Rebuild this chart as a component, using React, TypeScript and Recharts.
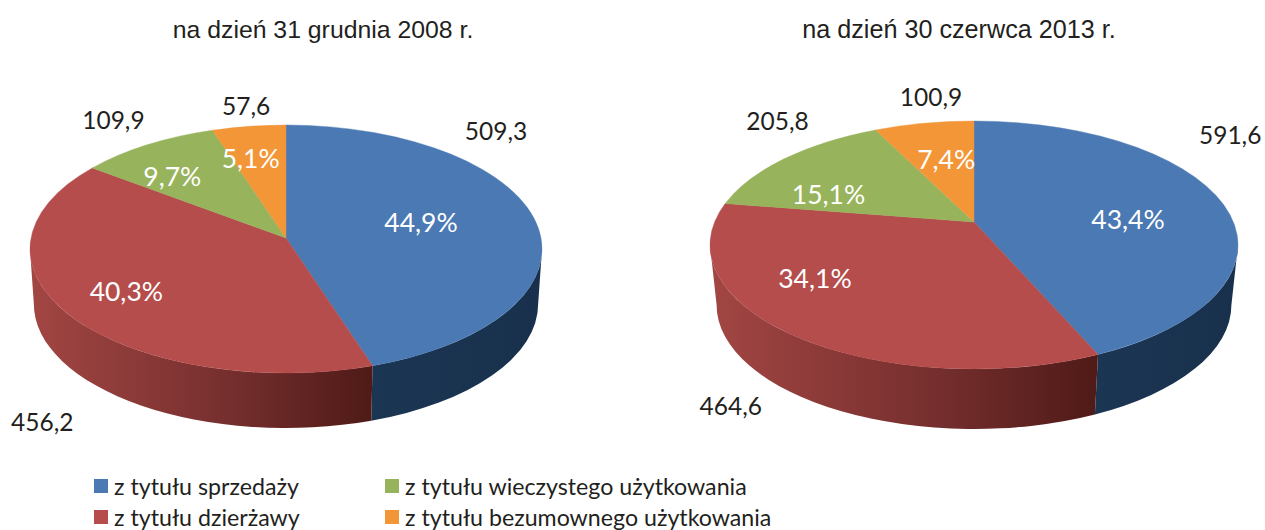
import React from 'react';
import { PieChart, Pie, Legend } from 'recharts';

const CATEGORIES = ['z tytułu sprzedaży', 'z tytułu dzierżawy', 'z tytułu wieczystego użytkowania', 'z tytułu bezumownego użytkowania'];
const COLORS = ['#4B79B3', '#B44D4B', '#97B35B', '#F39637'];
const VALUES_2008 = [509.3, 456.2, 109.9, 57.6];
const VALUES_2013 = [591.6, 464.6, 205.8, 100.9];
const VALUE_TEXT_2008 = ['509,3', '456,2', '109,9', '57,6'];
const VALUE_TEXT_2013 = ['591,6', '464,6', '205,8', '100,9'];
const SHARE_TEXT_2008 = ['44,9%', '40,3%', '9,7%', '5,1%'];
const SHARE_TEXT_2013 = ['43,4%', '34,1%', '15,1%', '7,4%'];
const TITLE_2008 = 'na dzień 31 grudnia 2008 r.';
const TITLE_2013 = 'na dzień 30 czerwca 2013 r.';

type Geo = {
  id: string; cx: number; cy: number; rx: number; ry: number; ey: number; depth: number; k: number;
  inner: number[][]; outer: number[][]; shares: string[]; texts: string[];
};

const GEO_2008: Geo = {
  id: 'a', cx: 286, cy: 238, rx: 256, ry: 124, ey: 249, depth: 55, k: 0.985,
  inner: [[-47, -2], [-10, 1], [-6, 10], [-6, 8]],
  outer: [[-68, -86], [-15, 104], [-8, -8], [5, 2]],
  shares: SHARE_TEXT_2008, texts: VALUE_TEXT_2008,
};
const GEO_2013: Geo = {
  id: 'b', cx: 974, cy: 222, rx: 264, ry: 124, ey: 245, depth: 60, k: 0.975,
  inner: [[-32, 15], [-43, -15], [8, 25], [16, 24]],
  outer: [[-28, -59], [-66, 75], [38, -21], [24, 7]],
  shares: SHARE_TEXT_2013, texts: VALUE_TEXT_2013,
};

const rad = (d: number) => (d * Math.PI) / 180;

// recharts angle (counter-clockwise from east) -> ellipse parameter, clockwise from top,
// following the ray from the off-centre apex so the perspective of the disc is kept.
function ellipseParam(g: Geo, angle: number) {
  const t = rad(90 - angle);
  const dx = g.rx * Math.sin(t);
  const dy = -g.ry * Math.cos(t);
  const off = (g.cy - g.ey) / g.ry;
  const a = (dx / g.rx) ** 2 + (dy / g.ry) ** 2;
  const b = (2 * dy * off) / g.ry;
  const c = off * off - 1;
  const s = (-b + Math.sqrt(b * b - 4 * a * c)) / (2 * a);
  const x = (dx * s) / g.rx;
  const y = (g.cy + dy * s - g.ey) / g.ry;
  let phi = (Math.atan2(x, -y) * 180) / Math.PI;
  if (phi < -0.001) phi += 360;
  return phi;
}
const topPt = (g: Geo, phi: number) => [g.cx + g.rx * Math.sin(rad(phi)), g.ey - g.ry * Math.cos(rad(phi))];
const lowPt = (g: Geo, phi: number) => [g.cx + g.k * g.rx * Math.sin(rad(phi)), g.ey + g.depth - g.ry * Math.cos(rad(phi))];
const f = (n: number) => n.toFixed(2);

function makeSlice(g: Geo) {
  return function Slice(props: any) {
    const { startAngle, endAngle, fill, index } = props;
    const p1 = ellipseParam(g, startAngle);
    let p2 = ellipseParam(g, endAngle);
    if (p2 <= p1) p2 += 360;
    const A = topPt(g, p1);
    const B = topPt(g, p2);
    const large = p2 - p1 > 180 ? 1 : 0;
    const face = `M${g.cx},${g.cy} L${f(A[0])},${f(A[1])} A${g.rx},${g.ry} 0 ${large} 1 ${f(B[0])},${f(B[1])} Z`;
    const w1 = Math.max(p1, 90);
    const w2 = Math.min(p2, 270);
    let wall: React.ReactNode = null;
    if (w2 > w1) {
      const a = topPt(g, w1), b = topPt(g, w2), c = lowPt(g, w2), d = lowPt(g, w1);
      const path = `M${f(a[0])},${f(a[1])} A${g.rx},${g.ry} 0 0 1 ${f(b[0])},${f(b[1])} L${f(c[0])},${f(c[1])} A${f(g.k * g.rx)},${g.ry} 0 0 0 ${f(d[0])},${f(d[1])} Z`;
      const gid = `wall-${g.id}-${index}`;
      const stops = index === 0
        ? [['0%', '#1B3653'], ['100%', '#18304C']]
        : [['0%', '#A24643'], ['55%', '#78302F'], ['100%', '#4F1A17']];
      wall = (
        <g>
          <defs>
            <linearGradient id={gid} x1="0" y1="0" x2="1" y2="0">
              {stops.map((s) => (
                <stop key={s[0]} offset={s[0]} stopColor={s[1]} />
              ))}
            </linearGradient>
          </defs>
          <path d={path} fill={`url(#${gid})`} />
        </g>
      );
    }
    return (
      <g>
        {wall}
        <path d={face} fill={fill} stroke={fill} strokeWidth={0.4} />
      </g>
    );
  };
}

function makeLabel(g: Geo) {
  return function SliceLabel(props: any) {
    const { midAngle, index } = props;
    const t = rad(90 - midAngle);
    const s = Math.sin(t), c = Math.cos(t);
    const ix = g.cx + 0.72 * g.rx * s + g.inner[index][0];
    const iy = g.cy - 0.72 * g.ry * c + g.inner[index][1];
    const ox = g.cx + 1.1 * g.rx * s + g.outer[index][0];
    const oy = g.cy - 1.1 * g.ry * c + g.outer[index][1];
    return (
      <g fontFamily="Lato, 'Open Sans', sans-serif">
        <text x={ix} y={iy} fill="#FFFFFF" fontSize={26.5} textAnchor="middle" dominantBaseline="central">{g.shares[index]}</text>
        <text x={ox} y={oy} fill="#231F20" fontSize={24.5} textAnchor="middle" dominantBaseline="central">{g.texts[index]}</text>
      </g>
    );
  };
}

const rows = (values: number[]) =>
  values.map((value, i) => ({ name: CATEGORIES[i], value, fill: COLORS[i] }));

function LegendBlock() {
  const cell = (i: number, left: number, top: number) => (
    <div key={i} style={{ position: 'absolute', left, top, height: 24, whiteSpace: 'nowrap', display: 'flex', alignItems: 'center' }}>
      <span style={{ width: 14, height: 14, background: COLORS[i], marginRight: 6, display: 'inline-block' }} />
      <span style={{ fontFamily: "Lato, sans-serif", fontSize: 23.2, color: '#231F20', lineHeight: '24px' }}>{CATEGORIES[i]}</span>
    </div>
  );
  return (
    <div style={{ position: 'relative', width: 1265, height: 55 }}>
      {cell(0, 94, 0)}
      {cell(1, 94, 31)}
      {cell(2, 385, 0)}
      {cell(3, 385, 31)}
    </div>
  );
}

const slice2008 = makeSlice(GEO_2008);
const slice2013 = makeSlice(GEO_2013);
const label2008 = makeLabel(GEO_2008);
const label2013 = makeLabel(GEO_2013);

export default function App() {
  return (
    <div style={{ position: 'absolute', left: 0, top: 0, width: 1265, height: 530 }}>
      <PieChart width={1265} height={530} margin={{ top: 0, right: 0, bottom: 0, left: 0 }}>
        <text x={323} y={29} textAnchor="middle" dominantBaseline="central" fontFamily="'Liberation Sans', Arial, sans-serif" fontSize={24.8} fill="#231F20">{TITLE_2008}</text>
        <text x={959} y={29} textAnchor="middle" dominantBaseline="central" fontFamily="'Liberation Sans', Arial, sans-serif" fontSize={25.2} fill="#231F20">{TITLE_2013}</text>
        <Pie
          data={rows(VALUES_2008)} dataKey="value" nameKey="name" cx={GEO_2008.cx} cy={GEO_2008.cy}
          outerRadius={GEO_2008.rx} startAngle={90} endAngle={-270} stroke="none"
          shape={slice2008} label={label2008} labelLine={false} isAnimationActive={false}
        />
        <Pie
          data={rows(VALUES_2013)} dataKey="value" nameKey="name" cx={GEO_2013.cx} cy={GEO_2013.cy}
          outerRadius={GEO_2013.rx} startAngle={90} endAngle={-270} stroke="none"
          shape={slice2013} label={label2013} labelLine={false} isAnimationActive={false}
        />
        <Legend content={<LegendBlock />} wrapperStyle={{ position: 'absolute', left: 0, top: 474, width: 1265 }} />
      </PieChart>
    </div>
  );
}
